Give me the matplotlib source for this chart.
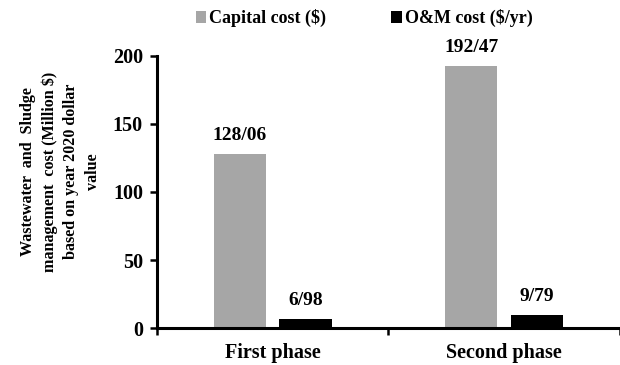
import numpy as np
import matplotlib.pyplot as plt

plt.rcParams['font.family'] = ['Liberation Serif', 'DejaVu Serif']
plt.rcParams['font.weight'] = 'bold'

# Cost per project phase (million $, 2020 dollar value)
phases = ["First phase", "Second phase"]
capital_cost = [128.06, 192.47]
om_cost = [6.98, 9.79]
series_names = ["Capital cost ($)", "O&M cost ($/yr)"]
series_colors = ["#a6a6a6", "#000000"]


def fmt(v):
    # decimal separator written as a slash
    return f"{v:.2f}".replace(".", "/")


fig = plt.figure(figsize=(6.2, 3.65), dpi=100)
ax = fig.add_axes([0.253, 0.101, 0.747, 0.746])

x = np.arange(len(phases))
width = 0.225
offset = 0.142
handles = []
for vals, off, color, name in zip([capital_cost, om_cost], [-offset, offset],
                                  series_colors, series_names):
    bars = ax.bar(x + off, vals, width, color=color, label=name)
    handles.append(bars)
    for b, v in zip(bars, vals):
        ax.annotate(fmt(v), (b.get_x() + b.get_width() / 2, v),
                    xytext=(0, 10), textcoords="offset points",
                    ha="center", va="baseline", fontsize=14, fontweight="bold")

ax.set_xlim(-0.5, 1.5)
ax.set_ylim(0, 200)
ax.set_yticks([0, 50, 100, 150, 200])
ax.set_xticks([-0.5, 0.5, 1.5])
ax.set_xticklabels([])
ax.set_xticks(x, minor=True)
ax.set_xticklabels(phases, minor=True)
ax.tick_params(axis="x", which="minor", length=0, pad=11, labelsize=14.5)
ax.tick_params(axis="x", which="major", length=5, width=1.8, direction="out")
ax.tick_params(axis="y", length=5, width=1.8, direction="out", labelsize=14.5, pad=5)

for side in ["top", "right"]:
    ax.spines[side].set_visible(False)
for side in ["left", "bottom"]:
    ax.spines[side].set_linewidth(2.2)

fig.text(0.097, 0.53,
         "Wastewater  and  Sludge\nmanagement  cost (Million $)\nbased on year 2020 dollar\nvalue",
         rotation=90, ha="center", va="center", fontsize=11.6, fontweight="bold",
         linespacing=1.45)

fig.legend(handles=handles, labels=series_names, loc="center",
           bbox_to_anchor=(0.587, 0.95), ncol=2, frameon=False,
           handlelength=0.6, handleheight=0.6, handletextpad=0.15,
           columnspacing=3.6, prop={"weight": "bold", "size": 13})

fig.savefig("out.png", dpi=100)
